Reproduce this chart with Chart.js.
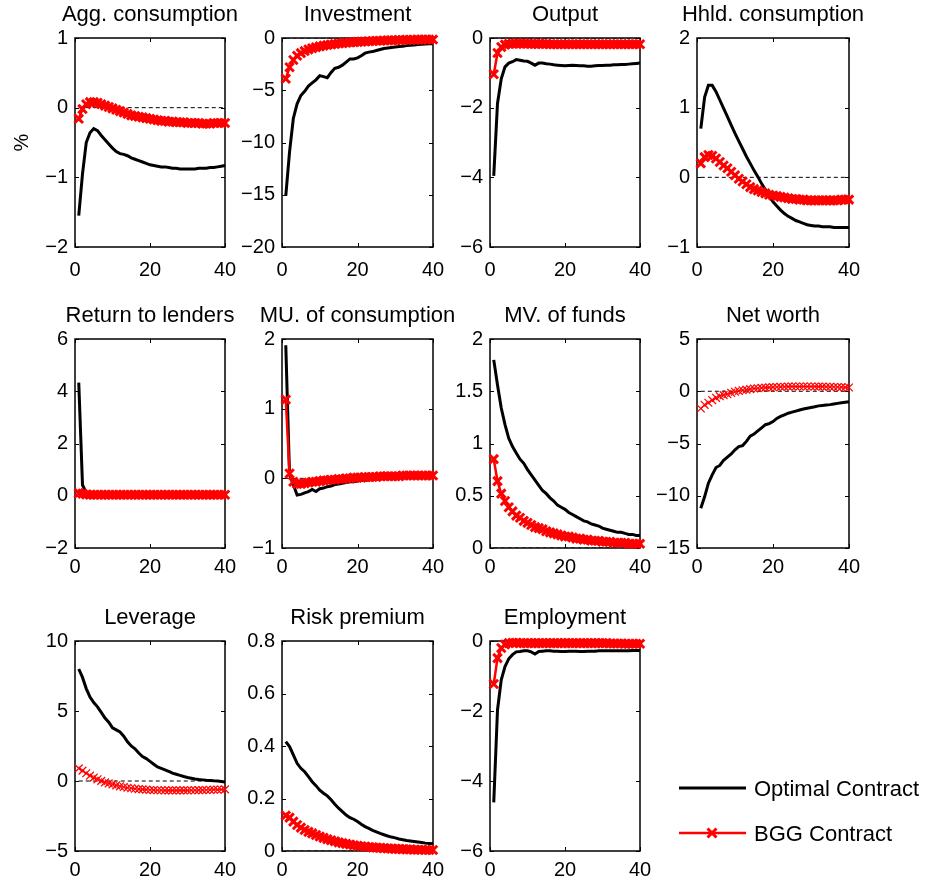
<!DOCTYPE html>
<html>
<head>
<meta charset="utf-8">
<title>Impulse responses: Optimal vs BGG contract</title>
<script src="https://cdn.jsdelivr.net/npm/chart.js"></script>
<style>
body {
	margin: 0;
	background: #fff;
	width: 925px;
	height: 884px;
	position: relative;
	overflow: hidden;
}
canvas.panel {
	position: absolute;
}
#legend {
	position: absolute;
	left: 0;
	top: 0;
}
</style>
</head>
<body>
<div id="figure"></div>
<svg id="legend" width="925" height="884" style="pointer-events:none">
	<line x1="679" y1="788" x2="746" y2="788" stroke="#000" stroke-width="3"/>
	<text x="754" y="796" font-family="Liberation Sans, Arial, sans-serif" font-size="22" fill="#000">Optimal Contract</text>
	<line x1="679" y1="833" x2="746" y2="833" stroke="#f00" stroke-width="2.5"/>
	<path d="M707.5 828.5 L716.5 837.5 M716.5 828.5 L707.5 837.5" stroke="#f00" stroke-width="3"/>
	<text x="754" y="841" font-family="Liberation Sans, Arial, sans-serif" font-size="22" fill="#000">BGG Contract</text>
</svg>

<script>
// quarters after the shock
const periods = [1, 2, 3, 4, 5, 6, 7, 8, 9, 10, 11, 12, 13, 14, 15, 16, 17, 18, 19, 20,
	21, 22, 23, 24, 25, 26, 27, 28, 29, 30, 31, 32, 33, 34, 35, 36, 37, 38, 39, 40];

const titles = ["Agg. consumption", "Investment", "Output", "Hhld. consumption",
	"Return to lenders", "MU. of consumption", "MV. of funds", "Net worth",
	"Leverage", "Risk premium", "Employment"];

const yMin  = [-2, -20, -6, -1, -2, -1, 0, -15, -5, 0, -6];
const yMax  = [1, 0, 0, 2, 6, 2, 2, 5, 10, 0.8, 0];
const yStep = [1, 5, 2, 1, 2, 1, 0.5, 5, 5, 0.2, 2];
const xTicks = [0, 20, 40];

// optimal contract responses
const aggC_opt = [-1.55, -0.95, -0.50, -0.36, -0.30, -0.33, -0.40, -0.46, -0.52, -0.58, -0.63, -0.66, -0.67, -0.69, -0.72, -0.74, -0.76, -0.78, -0.80, -0.82,
	-0.83, -0.84, -0.85, -0.85, -0.86, -0.87, -0.87, -0.88, -0.88, -0.88, -0.88, -0.88, -0.87, -0.87, -0.87, -0.86, -0.86, -0.85, -0.84, -0.83];
const inv_opt = [-15.1, -10.9, -7.7, -6.3, -5.5, -5.1, -4.6, -4.3, -4.0, -3.6, -3.7, -3.8, -3.3, -2.9, -2.8, -2.6, -2.3, -2.0, -2.0, -1.9,
	-1.7, -1.45, -1.35, -1.3, -1.2, -1.1, -1.0, -0.95, -0.9, -0.86, -0.82, -0.78, -0.73, -0.7, -0.67, -0.63, -0.6, -0.57, -0.55, -0.54];
const out_opt = [-3.96, -1.88, -1.17, -0.83, -0.72, -0.68, -0.62, -0.64, -0.66, -0.67, -0.72, -0.78, -0.72, -0.72, -0.74, -0.75, -0.77, -0.78, -0.79, -0.80,
	-0.79, -0.78, -0.79, -0.80, -0.80, -0.81, -0.81, -0.80, -0.79, -0.79, -0.78, -0.78, -0.77, -0.77, -0.76, -0.76, -0.75, -0.74, -0.73, -0.72];
const hh_opt = [0.70, 1.15, 1.32, 1.32, 1.23, 1.11, 0.99, 0.87, 0.75, 0.63, 0.52, 0.41, 0.30, 0.20, 0.10, 0.01, -0.09, -0.18, -0.27, -0.35,
	-0.41, -0.47, -0.52, -0.56, -0.59, -0.62, -0.64, -0.66, -0.68, -0.69, -0.70, -0.70, -0.71, -0.71, -0.71, -0.72, -0.72, -0.72, -0.72, -0.72];
const ret_opt = [4.33, 0.41, 0.12, 0.06, 0.04, 0.03, 0.03, 0.02, 0.02, 0.02, 0.02, 0.02, 0.02, 0.02, 0.02, 0.02, 0.02, 0.02, 0.02, 0.02,
	0.01, 0.01, 0.01, 0.01, 0.01, 0.01, 0.01, 0.01, 0.01, 0.01, 0.01, 0.01, 0.01, 0.01, 0.01, 0.01, 0.01, 0.01, 0.01, 0.01];
const mu_opt = [1.91, 0.05, -0.09, -0.24, -0.23, -0.21, -0.19, -0.16, -0.19, -0.15, -0.14, -0.12, -0.11, -0.09, -0.08, -0.07, -0.06, -0.05, -0.05, -0.04,
	-0.03, -0.03, -0.02, -0.02, -0.01, -0.01, 0.00, 0.00, 0.01, 0.01, 0.01, 0.02, 0.02, 0.02, 0.03, 0.03, 0.03, 0.03, 0.04, 0.04];
const mv_opt = [1.80, 1.56, 1.34, 1.18, 1.05, 0.97, 0.91, 0.85, 0.81, 0.75, 0.70, 0.65, 0.60, 0.55, 0.52, 0.48, 0.45, 0.41, 0.39, 0.37,
	0.34, 0.32, 0.30, 0.28, 0.26, 0.25, 0.23, 0.22, 0.21, 0.19, 0.18, 0.17, 0.16, 0.15, 0.15, 0.14, 0.13, 0.13, 0.12, 0.12];
const nw_opt = [-11.2, -10.1, -8.8, -8.0, -7.3, -7.1, -6.6, -6.3, -6.0, -5.6, -5.3, -5.2, -4.8, -4.3, -4.1, -3.8, -3.5, -3.2, -3.1, -2.9,
	-2.6, -2.4, -2.25, -2.1, -2.0, -1.9, -1.8, -1.7, -1.62, -1.55, -1.48, -1.4, -1.36, -1.32, -1.28, -1.22, -1.16, -1.1, -1.05, -1.0];
const lev_opt = [8.0, 7.4, 6.6, 6.0, 5.6, 5.3, 4.9, 4.5, 4.2, 3.8, 3.65, 3.5, 3.2, 2.8, 2.5, 2.3, 2.0, 1.75, 1.6, 1.4,
	1.2, 1.0, 0.9, 0.8, 0.68, 0.56, 0.48, 0.4, 0.32, 0.25, 0.2, 0.15, 0.11, 0.08, 0.05, 0.03, 0.01, 0.0, -0.03, -0.07];
const rp_opt = [0.417, 0.398, 0.366, 0.334, 0.315, 0.302, 0.283, 0.264, 0.249, 0.232, 0.22, 0.21, 0.195, 0.178, 0.163, 0.15, 0.137, 0.127, 0.121, 0.112,
	0.102, 0.093, 0.086, 0.079, 0.073, 0.067, 0.062, 0.057, 0.053, 0.05, 0.046, 0.043, 0.04, 0.038, 0.036, 0.034, 0.032, 0.03, 0.029, 0.028];
const emp_opt = [-4.61, -1.97, -1.11, -0.73, -0.51, -0.39, -0.31, -0.30, -0.28, -0.28, -0.31, -0.37, -0.30, -0.29, -0.28, -0.28, -0.29, -0.29, -0.30, -0.30,
	-0.29, -0.29, -0.29, -0.30, -0.30, -0.29, -0.29, -0.29, -0.28, -0.28, -0.28, -0.28, -0.28, -0.28, -0.28, -0.28, -0.28, -0.27, -0.27, -0.27];

// BGG contract responses
const aggC_bgg = [-0.16, -0.02, 0.05, 0.08, 0.08, 0.07, 0.05, 0.03, 0.01, -0.01, -0.03, -0.05, -0.07, -0.09, -0.11, -0.12, -0.13, -0.14, -0.15, -0.16,
	-0.17, -0.18, -0.19, -0.19, -0.20, -0.20, -0.21, -0.21, -0.21, -0.22, -0.22, -0.22, -0.22, -0.23, -0.23, -0.23, -0.22, -0.22, -0.22, -0.22];
const inv_bgg = [-3.9, -2.8, -2.1, -1.7, -1.45, -1.25, -1.1, -0.98, -0.88, -0.8, -0.73, -0.67, -0.62, -0.57, -0.53, -0.49, -0.46, -0.43, -0.4, -0.37,
	-0.35, -0.33, -0.31, -0.29, -0.27, -0.26, -0.24, -0.23, -0.22, -0.21, -0.2, -0.19, -0.18, -0.17, -0.17, -0.16, -0.16, -0.15, -0.15, -0.15];
const out_bgg = [-1.04, -0.43, -0.26, -0.19, -0.17, -0.16, -0.16, -0.16, -0.16, -0.16, -0.17, -0.17, -0.17, -0.17, -0.17, -0.18, -0.18, -0.18, -0.18, -0.18,
	-0.18, -0.18, -0.18, -0.18, -0.18, -0.18, -0.18, -0.18, -0.18, -0.18, -0.18, -0.18, -0.18, -0.18, -0.18, -0.18, -0.18, -0.18, -0.18, -0.18];
const hh_bgg = [0.20, 0.29, 0.32, 0.31, 0.27, 0.22, 0.17, 0.13, 0.08, 0.03, -0.02, -0.06, -0.10, -0.14, -0.17, -0.19, -0.21, -0.23, -0.25, -0.26,
	-0.27, -0.28, -0.29, -0.30, -0.31, -0.31, -0.32, -0.32, -0.33, -0.33, -0.33, -0.33, -0.33, -0.33, -0.33, -0.33, -0.33, -0.32, -0.32, -0.32];
const ret_bgg = [0.10, 0.08, 0.05, 0.04, 0.04, 0.04, 0.04, 0.04, 0.04, 0.04, 0.04, 0.04, 0.04, 0.04, 0.04, 0.04, 0.04, 0.04, 0.04, 0.04,
	0.04, 0.04, 0.04, 0.04, 0.04, 0.04, 0.04, 0.04, 0.04, 0.04, 0.04, 0.04, 0.04, 0.04, 0.04, 0.04, 0.04, 0.04, 0.04, 0.04];
const mu_bgg = [1.13, 0.07, -0.05, -0.08, -0.08, -0.07, -0.06, -0.05, -0.05, -0.04, -0.03, -0.03, -0.02, -0.02, -0.01, -0.01, 0.00, 0.00, 0.01, 0.01,
	0.01, 0.02, 0.02, 0.02, 0.02, 0.03, 0.03, 0.03, 0.03, 0.03, 0.03, 0.04, 0.04, 0.04, 0.04, 0.04, 0.04, 0.04, 0.04, 0.04];
const mv_bgg = [0.85, 0.64, 0.52, 0.45, 0.39, 0.35, 0.31, 0.29, 0.26, 0.24, 0.22, 0.20, 0.19, 0.18, 0.16, 0.15, 0.14, 0.13, 0.12, 0.11,
	0.11, 0.10, 0.09, 0.09, 0.08, 0.08, 0.07, 0.07, 0.07, 0.06, 0.06, 0.06, 0.05, 0.05, 0.05, 0.05, 0.04, 0.04, 0.04, 0.04];
const nw_bgg = [-1.65, -1.3, -1.1, -0.85, -0.63, -0.47, -0.37, -0.28, -0.16, -0.05, 0.03, 0.1, 0.15, 0.2, 0.26, 0.29, 0.32, 0.35, 0.37, 0.39,
	0.41, 0.42, 0.43, 0.44, 0.45, 0.45, 0.45, 0.45, 0.45, 0.45, 0.45, 0.44, 0.44, 0.43, 0.42, 0.41, 0.4, 0.39, 0.37, 0.36];
const lev_bgg = [0.9, 0.74, 0.55, 0.38, 0.24, 0.12, 0.01, -0.1, -0.17, -0.24, -0.31, -0.38, -0.43, -0.48, -0.52, -0.55, -0.58, -0.6, -0.62, -0.64,
	-0.65, -0.66, -0.66, -0.67, -0.67, -0.67, -0.67, -0.67, -0.67, -0.67, -0.66, -0.66, -0.65, -0.65, -0.64, -0.63, -0.62, -0.62, -0.61, -0.6];
const rp_bgg = [0.135, 0.127, 0.112, 0.099, 0.089, 0.08, 0.073, 0.067, 0.061, 0.055, 0.05, 0.045, 0.041, 0.037, 0.033, 0.03, 0.027, 0.025, 0.022, 0.02,
	0.018, 0.017, 0.015, 0.014, 0.013, 0.012, 0.011, 0.01, 0.009, 0.008, 0.008, 0.007, 0.006, 0.006, 0.005, 0.005, 0.005, 0.004, 0.004, 0.004];
const emp_bgg = [-1.23, -0.49, -0.20, -0.10, -0.06, -0.05, -0.05, -0.06, -0.06, -0.06, -0.06, -0.06, -0.06, -0.06, -0.06, -0.06, -0.06, -0.06, -0.06, -0.06,
	-0.06, -0.06, -0.06, -0.06, -0.06, -0.06, -0.06, -0.06, -0.06, -0.06, -0.06, -0.07, -0.07, -0.07, -0.07, -0.08, -0.08, -0.08, -0.08, -0.08];

const optimal = [aggC_opt, inv_opt, out_opt, hh_opt, ret_opt, mu_opt, mv_opt, nw_opt, lev_opt, rp_opt, emp_opt];
const bgg = [aggC_bgg, inv_bgg, out_bgg, hh_bgg, ret_bgg, mu_bgg, mv_bgg, nw_bgg, lev_bgg, rp_bgg, emp_bgg];

// panels 8 and 9 (net worth, leverage) use thin crosses
const thinCross = [false, false, false, false, false, false, false, true, true, false, false];

// grid geometry
const colLeft = [75, 282, 490, 697];
const plotW = [150, 151, 150, 152];
const rowTop = [38, 339, 641];
const plotH = [209, 209, 210];
const xLabelGap = [11, 7, 7];
const AXIS_W = 70, TITLE_H = 40, XAXIS_H = 36, PAD_R = 25;

const FONT = '"Liberation Sans", Arial, Helvetica, sans-serif';

function fmt(v) {
	let s = String(Math.round(v * 100) / 100);
	return s.replace('-', '\u2212');
}

function pairs(arr) {
	return arr.map((v, k) => ({x: periods[k], y: v}));
}

// closed box with inward tick marks, like a matlab axes
const boxPlugin = {
	id: 'boxAxes',
	beforeDatasetsDraw(chart) {
		const ctx = chart.ctx;
		const a = chart.chartArea;
		const xs = chart.scales.x, ys = chart.scales.y;
		ctx.save();
		ctx.strokeStyle = '#000';
		ctx.lineWidth = 1;
		ctx.beginPath();
		ys.ticks.forEach(t => {
			const p = Math.round(ys.getPixelForValue(t.value)) + 0.5;
			ctx.moveTo(a.left, p); ctx.lineTo(a.left + 4, p);
			ctx.moveTo(a.right, p); ctx.lineTo(a.right - 4, p);
		});
		xs.ticks.forEach(t => {
			const p = Math.round(xs.getPixelForValue(t.value)) + 0.5;
			ctx.moveTo(p, a.bottom); ctx.lineTo(p, a.bottom - 4);
			ctx.moveTo(p, a.top); ctx.lineTo(p, a.top + 4);
		});
		ctx.stroke();
		ctx.lineWidth = 1.5;
		ctx.strokeRect(a.left, a.top, a.right - a.left, a.bottom - a.top);
		ctx.restore();
	}
};

// panel title centred over the plot box, allowed to run wider than it
const panelTitle = {
	id: 'panelTitle',
	afterDraw(chart, args, opts) {
		const ctx = chart.ctx;
		const a = chart.chartArea;
		ctx.save();
		ctx.fillStyle = '#000';
		ctx.font = '22px ' + FONT;
		ctx.textAlign = 'center';
		ctx.textBaseline = 'alphabetic';
		ctx.fillText(opts.text, (a.left + a.right) / 2, a.top - 17);
		ctx.restore();
	}
};

const fig = document.getElementById('figure');

titles.forEach((title, i) => {
	const row = Math.floor(i / 4), col = i % 4;
	const cv = document.createElement('canvas');
	cv.className = 'panel';
	cv.width = AXIS_W + plotW[col] + PAD_R;
	cv.height = TITLE_H + plotH[row] + XAXIS_H;
	cv.style.left = (colLeft[col] - AXIS_W) + 'px';
	cv.style.top = (rowTop[row] - TITLE_H) + 'px';
	fig.appendChild(cv);

	const thin = thinCross[i];

	new Chart(cv, {
		type: 'line',
		data: {
			datasets: [
				{
					data: pairs(bgg[i]),
					borderColor: '#ff0000',
					backgroundColor: '#ff0000',
					borderWidth: thin ? 1 : 2.5,
					pointStyle: 'crossRot',
					pointRadius: thin ? 5.5 : 6,
					pointBorderWidth: thin ? 1.2 : 3,
					pointBorderColor: '#ff0000',
					clip: false
				},
				{
					data: pairs(optimal[i]),
					borderColor: '#000',
					borderWidth: 3,
					pointRadius: 0,
					clip: false
				},
				{
					data: [{x: periods[0], y: 0}, {x: periods[periods.length - 1], y: 0}],
					borderColor: '#000',
					borderWidth: 1,
					borderDash: [4, 3],
					pointRadius: 0
				}
			]
		},
		options: {
			responsive: false,
			animation: false,
			events: [],
			layout: {padding: {left: 0, right: PAD_R, top: TITLE_H, bottom: 0}},
			plugins: {
				legend: {display: false},
				tooltip: {enabled: false},
				title: {display: false},
				panelTitle: {text: title}
			},
			scales: {
				x: {
					type: 'linear',
					min: xTicks[0],
					max: xTicks[xTicks.length - 1],
					grid: {display: false, drawTicks: false},
					border: {display: false},
					ticks: {
						stepSize: xTicks[1] - xTicks[0],
						padding: xLabelGap[row],
						maxRotation: 0,
						color: '#000',
						font: {family: FONT, size: 20},
						callback: fmt
					},
					afterFit: s => { s.height = XAXIS_H; }
				},
				y: {
					min: yMin[i],
					max: yMax[i],
					grid: {display: false, drawTicks: false},
					border: {display: false},
					ticks: {
						stepSize: yStep[i],
						padding: 7,
						color: '#000',
						font: {family: FONT, size: 20},
						callback: fmt
					},
					title: {
						display: i === 0,
						text: '%',
						color: '#000',
						font: {family: FONT, size: 20},
						padding: {top: 5, bottom: 0}
					},
					afterFit: s => { s.width = AXIS_W; }
				}
			}
		},
		plugins: [boxPlugin, panelTitle]
	});
});
</script>
</body>
</html>
